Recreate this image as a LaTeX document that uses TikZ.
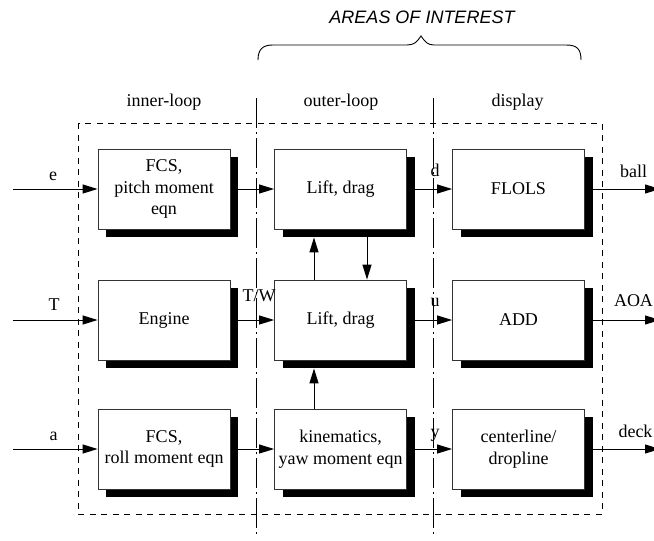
\documentclass[tikz,border=0pt]{standalone}
\usepackage{fontspec}
\setmainfont{Liberation Serif}
\newfontfamily\titlefont{Liberation Sans}
\usetikzlibrary{arrows.meta,shadows}
\begin{document}
\begin{tikzpicture}[x=1pt,y=-1pt,
  font=\fontsize{18}{21.5}\selectfont,
  blk/.style={draw=black!80, line width=0.8pt, fill=white,
    minimum width=132pt, minimum height=80pt, inner sep=0pt, align=center,
    general shadow={fill=black, shadow xshift=8pt, shadow yshift=-8pt}},
  conn/.style={line width=1pt, -{Triangle[length=15pt,width=9pt]}},
  lbl/.style={anchor=base, inner sep=0pt},
  dbox/.style={line width=0.8pt, dash pattern=on 6pt off 5.5pt},
  ddot/.style={line width=0.8pt, dash pattern=on 30pt off 4pt on 2pt off 4pt},
  brace/.style={line width=0.9pt}
]
\useasboundingbox (0,0) rectangle (654,541);

% title and brace
\node[lbl, font={\titlefont\itshape\fontsize{18}{20}\selectfont}] (title) at (422,23) {AREAS OF INTEREST};
\draw[brace] (258,60) .. controls (258,49) and (263,45) .. (273,45) -- (407,45)
  .. controls (414,45) and (417,42) .. (421,36)
  .. controls (425,42) and (428,45) .. (434,45) -- (566,45)
  .. controls (577,45) and (581,49) .. (581,60);

% column labels
\node[lbl] (inner) at (164,106) {inner-loop};
\node[lbl] (outer) at (341,106) {outer-loop};
\node[lbl] (disp) at (517.5,106) {display};

% dashed region and dash-dot separators
\draw[dbox] (78,123) rectangle (602,514);
\coordinate (v1t) at (256,98);
\coordinate (v1b) at (256,534);
\coordinate (v2t) at (433,98);
\coordinate (v2b) at (433,534);
\draw[ddot] (v1t) -- (v1b);
\draw[ddot] (v2t) -- (v2b);

% blocks
\node[blk] (F1) at (164,189) {FCS,\\pitch moment\\eqn};
\node[blk] (EN) at (164,320) {Engine};
\node[blk] (F2) at (164,449) {FCS,\\roll moment eqn};
\node[blk] (L1) at (340.5,189) {Lift, drag};
\node[blk] (L2) at (340.5,320) {Lift, drag};
\node[blk] (KI) at (340.5,449) {kinematics,\\yaw moment eqn};
\node[blk] (FL) at (518.5,189) {FLOLS};
\node[blk] (AD) at (518.5,320) {ADD};
\node[blk] (CL) at (518.5,449) {centerline/\\dropline};

% inputs
\coordinate (ie) at (13,189);
\coordinate (iT) at (13,320);
\coordinate (ia) at (13,449);
\draw[conn] (ie) -- (F1.west);
\draw[conn] (iT) -- (EN.west);
\draw[conn] (ia) -- (F2.west);
\node[lbl] (le) at (53,180) {e};
\node[lbl] (lT) at (54,310) {T};
\node[lbl] (la) at (53.5,440) {a};

% col1 -> col2
\draw[conn] ([xshift=8pt]F1.east) -- (L1.west);
\draw[conn] ([xshift=8pt]EN.east) -- (L2.west);
\draw[conn] ([xshift=8pt]F2.east) -- (KI.west);
\node[lbl] (lTW) at (259,301) {T/W};

% col2 -> col3
\draw[conn] ([xshift=8pt]L1.east) -- (FL.west);
\draw[conn] ([xshift=8pt]L2.east) -- (AD.west);
\draw[conn] ([xshift=8pt]KI.east) -- (CL.west);
\node[lbl] (ld) at (435,176) {d};
\node[lbl] (lu) at (435,306) {u};
\node[lbl] (ly) at (435,437) {y};

% vertical connections in outer loop
\draw[conn] ([xshift=-26.5pt]L2.north) -- ([xshift=-26.5pt,yshift=-8pt]L1.south);
\draw[conn] ([xshift=26.5pt,yshift=-8pt]L1.south) -- ([xshift=26.5pt]L2.north);
\draw[conn] ([xshift=-26.5pt]KI.north) -- ([xshift=-26.5pt,yshift=-8pt]L2.south);

% outputs
\coordinate (oball) at (660,189);
\coordinate (oaoa) at (660,320);
\coordinate (odeck) at (660,449);
\draw[conn] ([xshift=8pt]FL.east) -- (oball);
\draw[conn] ([xshift=8pt]AD.east) -- (oaoa);
\draw[conn] ([xshift=8pt]CL.east) -- (odeck);
\node[lbl] (lball) at (633.5,177) {ball};
\node[lbl] (laoa) at (633.5,306) {AOA};
\node[lbl] (ldeck) at (635.5,437) {deck};
\end{tikzpicture}
\end{document}
